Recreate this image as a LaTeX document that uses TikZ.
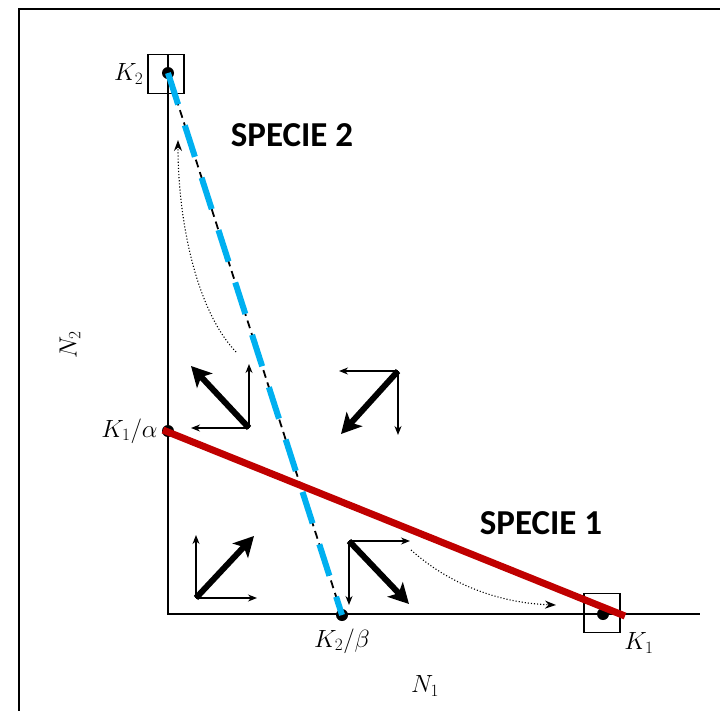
\documentclass[tikz,border=0pt]{standalone}
\usepackage{fontspec}
\newfontfamily\speciesfont{Carlito}
\usetikzlibrary{arrows.meta,positioning}
\definecolor{isored}{RGB}{192,0,0}
\definecolor{isoblue}{RGB}{0,176,240}
\tikzset{
  thinarr/.style={-{Stealth[length=9pt,width=7pt]}, line width=1.3pt},
  thickarr/.style={-{Stealth[length=20pt,width=21pt,inset=5pt]}, line width=6pt},
  dotarr/.style={-{Stealth[length=11pt,width=8pt]}, line width=1.1pt, dotted},
  eqbox/.style={draw, line width=1.2pt, minimum width=36pt, minimum height=39pt, inner sep=0pt},
  eqdot/.style={circle, fill=black, inner sep=0pt, minimum size=12pt},
  mathlabel/.style={font=\fontsize{24}{28}\selectfont, inner sep=1pt},
  species/.style={font=\speciesfont\bfseries\fontsize{35}{40}\selectfont},
}

\begin{document}
\begin{tikzpicture}[x=1pt, y=-1pt]
  \useasboundingbox (0,0) rectangle (720,710);
  \draw[line width=2pt] (19,712) -- (19,9) -- (722,9);

  % axes
  \coordinate (ytop) at (168,54);
  \coordinate (orig) at (168,614);
  \coordinate (xend) at (700,614);
  \draw[line width=1.4pt] (ytop) -- (orig) -- (xend);

  % equilibrium points
  \node[eqbox] (k2box) at (166,74) {};
  \node[eqbox] (k1box) at (602,613) {};
  \node[eqdot] (k2dot) at (168,73) {};
  \node[eqdot] (k1dot) at (603,614) {};
  \node[eqdot] (k1adot) at (168,431) {};
  \node[eqdot] (k2bdot) at (342,615) {};

  \node[mathlabel, left=3pt of k2box] (k2lab) {$K_2$};
  \node[mathlabel, left=3pt of k1adot] (k1alab) {$K_1/\alpha$};
  \node[mathlabel, below=6pt of k2bdot] (k2blab) {$K_2/\beta$};
  \node[mathlabel] (k1lab) at (639,643) {$K_1$};
  \node[mathlabel] (n1lab) at (425,686) {$N_1$};
  \node[mathlabel, rotate=90] (n2lab) at (70,345) {$N_2$};

  % isoclines
  \draw[line width=1.8pt, dash pattern=on 8pt off 5pt] (k2dot.center) -- (k2bdot.center);
  \draw[isoblue, line width=6pt, dash pattern=on 33pt off 22pt] (k2dot.center) -- (k2bdot.center);
  \coordinate (redA) at (163,430);
  \coordinate (redB) at (625,616);
  \draw[isored, line width=7pt] (redA) -- (redB);

  \node[species] (sp2) at (292,135) {SPECIE 2};
  \node[species] (sp1) at (541,523) {SPECIE 1};

  % upper left
  \coordinate (qa) at (249,428);
  \coordinate (qaup) at (249,364);
  \coordinate (qaleft) at (191,428);
  \coordinate (qadiag) at (191,366);
  \draw[thinarr] (qa) -- (qaup);
  \draw[thinarr] (qa) -- (qaleft);
  \draw[thickarr] (qa) -- (qadiag);

  % upper right
  \coordinate (qb) at (398,371);
  \coordinate (qbleft) at (339,371);
  \coordinate (qbdown) at (398,435);
  \coordinate (qbdiag) at (341,434);
  \draw[thinarr] (qb) -- (qbleft);
  \draw[thinarr] (qb) -- (qbdown);
  \draw[thickarr] (qb) -- (qbdiag);

  % lower left
  \coordinate (qc) at (196,598);
  \coordinate (qcup) at (196,535);
  \coordinate (qcright) at (257,598);
  \coordinate (qcdiag) at (254,536);
  \draw[thinarr] (qc) -- (qcup);
  \draw[thinarr] (qc) -- (qcright);
  \draw[thickarr] (qc) -- (qcdiag);

  % lower middle
  \coordinate (qd) at (349,541);
  \coordinate (qdright) at (410,541);
  \coordinate (qddown) at (349,605);
  \coordinate (qddiag) at (409,604);
  \draw[thinarr] (qd) -- (qdright);
  \draw[thinarr] (qd) -- (qddown);
  \draw[thickarr] (qd) -- (qddiag);

  % trajectories
  \coordinate (ta) at (236,352);
  \coordinate (tb) at (178,140);
  \draw[dotarr] (ta) .. controls (196,310) and (178,220) .. (tb);
  \coordinate (ba) at (411,550);
  \coordinate (bb) at (556,605);
  \draw[dotarr] (ba) .. controls (450,585) and (500,603) .. (bb);
\end{tikzpicture}
\end{document}
